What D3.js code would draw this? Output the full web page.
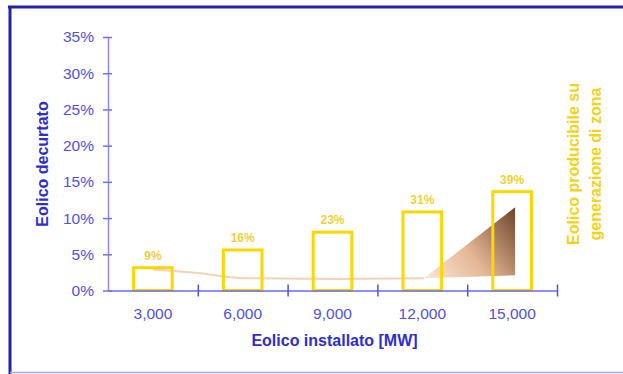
<!DOCTYPE html>
<html>
<head>
<meta charset="utf-8">
<script src="https://cdn.jsdelivr.net/npm/d3@7"></script>
<style>
  html, body { margin: 0; padding: 0; background: #fff; }
  svg { display: block; }
  text { font-family: "Liberation Sans", Arial, sans-serif; }
</style>
</head>
<body>
<svg id="chart" width="623" height="374"></svg>
<script>
// Installed wind capacity categories (MW)
const installedMW = [3000, 6000, 9000, 12000, 15000];
const categories = ["3,000", "6,000", "9,000", "12,000", "15,000"];
// Wind producible as share of zonal generation (bars, secondary scale)
const producibleShare = [0.09, 0.16, 0.23, 0.31, 0.39];
// Curtailed wind (left axis): smooth line across the lower range
const curtailMW = [3000, 4500, 6000, 9000, 12050];
const curtailShare = [0.029, 0.024, 0.017, 0.016, 0.017];
// Curtailed wind ramp at high installed capacity
const rampMW = [12050, 15100, 15100];
const rampShare = [0.017, 0.115, 0.021];
// Left axis ticks
const yTicks = [0, 0.05, 0.10, 0.15, 0.20, 0.25, 0.30, 0.35];

const svg = d3.select("#chart");
const plotL = 108, plotR = 557, plotT = 37, plotB = 290.5;

const xBand = d3.scaleBand().domain(categories).range([plotL, plotR])
  .paddingInner(0.57).paddingOuter(0.285);
const xMW = d3.scaleLinear().domain([1500, 16500]).range([plotL, plotR]);
const y = d3.scaleLinear().domain([0, 0.35]).range([plotB, plotT]);
const y2 = d3.scaleLinear().domain([0, 1]).range([plotB, plotT]);

// frame
svg.append("line").attr("x1", 8).attr("x2", 623).attr("y1", 7).attr("y2", 7)
  .attr("stroke", "#2222b0").attr("stroke-width", 3);
svg.append("line").attr("x1", 10).attr("x2", 10).attr("y1", 6).attr("y2", 374)
  .attr("stroke", "#2222b0").attr("stroke-width", 3);
svg.append("line").attr("x1", 10).attr("x2", 623).attr("y1", 372.5).attr("y2", 372.5)
  .attr("stroke", "#a8a8f0").attr("stroke-width", 1.5);

// gradient for the ramp
const defs = svg.append("defs");
const grad = defs.append("linearGradient").attr("id", "rampGrad")
  .attr("gradientUnits", "userSpaceOnUse")
  .attr("x1", xMW(12050)).attr("y1", y(0.017))
  .attr("x2", xMW(15100)).attr("y2", y(0.115));
grad.append("stop").attr("offset", 0).attr("stop-color", "#fbe6d2");
grad.append("stop").attr("offset", 0.45).attr("stop-color", "#e2b08c");
grad.append("stop").attr("offset", 1).attr("stop-color", "#5e3418");

// curtailed line
const line = d3.line().x((d, i) => xMW(curtailMW[i])).y(d => y(d)).curve(d3.curveMonotoneX);
svg.append("path").datum(curtailShare).attr("d", line)
  .attr("fill", "none").attr("stroke", "#f6d2b4").attr("stroke-width", 2);

// ramp
const ramp = d3.line().x((d, i) => xMW(rampMW[i])).y(d => y(d));
svg.append("path").attr("d", ramp(rampShare) + "Z")
  .attr("fill", "url(#rampGrad)").attr("opacity", 0.92);

// bars
svg.append("g").selectAll("rect").data(producibleShare).join("rect")
  .attr("x", (d, i) => xBand(categories[i]))
  .attr("y", d => y2(d))
  .attr("width", xBand.bandwidth())
  .attr("height", d => y2(0) - y2(d))
  .attr("fill", "none").attr("stroke", "#ffd600").attr("stroke-width", 3);

// bar labels
svg.append("g").selectAll("text").data(producibleShare).join("text")
  .attr("x", (d, i) => xBand(categories[i]) + xBand.bandwidth() / 2)
  .attr("y", d => y2(d) - 8)
  .attr("text-anchor", "middle")
  .attr("font-size", 12).attr("font-weight", "bold")
  .attr("fill", "#f3cf3a")
  .text(d => d3.format(".0%")(d));

// y axis
const yAxis = svg.append("g").attr("transform", `translate(${plotL},0)`)
  .call(d3.axisLeft(y).tickValues(yTicks).tickFormat(d3.format(".0%")).tickSizeInner(5).tickSizeOuter(0).tickPadding(10));
yAxis.select(".domain").attr("stroke", "#8a8aff").attr("stroke-width", 1.5);
yAxis.selectAll(".tick line").attr("stroke", "#7070f0").attr("stroke-width", 1.5).attr("x2", 4).attr("x1", -5);
yAxis.selectAll(".tick text").attr("fill", "#4f4ff0").attr("font-size", 15.5)
  .attr("font-family", "Liberation Sans, Arial, sans-serif").attr("x", -14);

// x axis: boundary ticks
const bounds = [4500, 7500, 10500, 13500, 16500];
const xAxis = svg.append("g").attr("transform", `translate(0,${plotB})`)
  .call(d3.axisBottom(xMW).tickValues(bounds).tickFormat("").tickSizeOuter(0).tickSizeInner(6));
xAxis.select(".domain").attr("stroke", "#6a6aff").attr("stroke-width", 1.5);
xAxis.selectAll(".tick line").attr("stroke", "#5050e8").attr("stroke-width", 1.5).attr("y1", -6).attr("y2", 6);

// x axis: category labels
const xLab = svg.append("g").attr("transform", `translate(0,${plotB})`)
  .call(d3.axisBottom(xBand).tickSize(0).tickPadding(17));
xLab.select(".domain").remove();
xLab.selectAll(".tick text").attr("fill", "#4f4ff0").attr("font-size", 15.5)
  .attr("font-family", "Liberation Sans, Arial, sans-serif");

// axis titles
svg.append("text").attr("x", (plotL + plotR) / 2 + 2).attr("y", 346)
  .attr("text-anchor", "middle").attr("font-size", 16).attr("font-weight", "bold")
  .attr("fill", "#2d2dd8").text("Eolico installato [MW]");
svg.append("text").attr("transform", "translate(48,164) rotate(-90)")
  .attr("text-anchor", "middle").attr("font-size", 16).attr("font-weight", "bold")
  .attr("fill", "#2d2dd8").text("Eolico decurtato");
const rt = svg.append("text").attr("transform", "translate(579,164) rotate(-90)")
  .attr("text-anchor", "middle").attr("font-size", 16).attr("font-weight", "bold")
  .attr("fill", "#f5d21c");
rt.append("tspan").attr("x", 0).attr("dy", 0).text("Eolico producibile su");
rt.append("tspan").attr("x", 0).attr("dy", 22).text("generazione di zona");
</script>
</body>
</html>
